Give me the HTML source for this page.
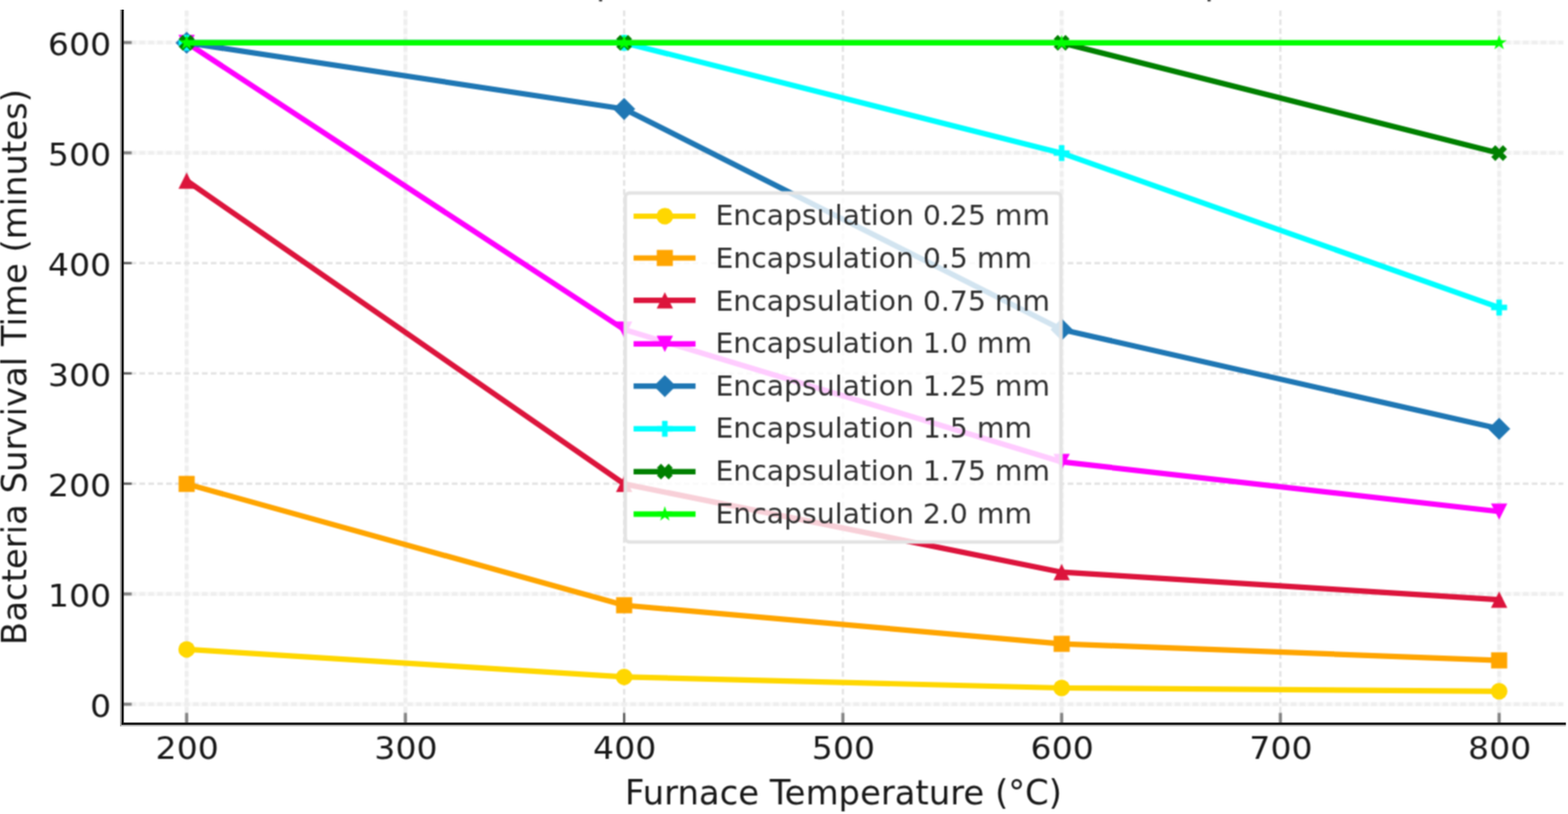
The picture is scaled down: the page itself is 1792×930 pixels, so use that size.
<!DOCTYPE html>
<html lang="en"><head><meta charset="utf-8"><title>Bacteria Survival Time vs Furnace Temperature</title>
<style>html,body{margin:0;padding:0;background:#fff;}body{width:1792px;height:930px;overflow:hidden;}svg{display:block;}text{font-family:"DejaVu Sans","Liberation Sans",sans-serif;fill:#181818;font-weight:400;}text.lg{fill:#2e2e2e;}</style></head><body>
<svg width="1792" height="930" viewBox="0 0 1792 930">
<defs><filter id="soft" x="0" y="0" width="100%" height="100%" filterUnits="objectBoundingBox" color-interpolation-filters="sRGB"><feConvolveMatrix order="3" kernelMatrix="1 2 1 2 4 2 1 2 1" divisor="16" edgeMode="duplicate" preserveAlpha="false"/></filter></defs>
<g filter="url(#soft)">
<rect width="1792" height="930" fill="#fff"/>
<g fill="#3a3a3a"><rect x="684.6" y="-3" width="3.6" height="4.6"/><rect x="1380" y="-3" width="3.6" height="4.6"/></g>
<g fill="none" stroke="#f9f9f9" stroke-width="4.6">
<line x1="213.3" y1="12" x2="213.3" y2="827.6"/>
<line x1="463.3" y1="12" x2="463.3" y2="827.6"/>
<line x1="1213.3" y1="12" x2="1213.3" y2="827.6"/>
<line x1="1713.3" y1="12" x2="1713.3" y2="827.6"/>
<line x1="139" y1="804.6" x2="1786.6" y2="804.6"/>
<line x1="139" y1="678.6" x2="1786.6" y2="678.6"/>
<line x1="139" y1="174.6" x2="1786.6" y2="174.6"/>
<line x1="139" y1="48.6" x2="1786.6" y2="48.6"/>
</g>
<g fill="none" stroke-dasharray="6.4 3.8">
<line x1="213.3" y1="12" x2="213.3" y2="827.6" stroke="#eeeeee" stroke-width="4.3"/>
<line x1="463.3" y1="12" x2="463.3" y2="827.6" stroke="#eeeeee" stroke-width="4.3"/>
<line x1="713.3" y1="12" x2="713.3" y2="827.6" stroke="#e3e3e3" stroke-width="2.6"/>
<line x1="963.3" y1="12" x2="963.3" y2="827.6" stroke="#e3e3e3" stroke-width="2.6"/>
<line x1="1213.3" y1="12" x2="1213.3" y2="827.6" stroke="#eeeeee" stroke-width="4.3"/>
<line x1="1463.3" y1="12" x2="1463.3" y2="827.6" stroke="#e3e3e3" stroke-width="2.6"/>
<line x1="1713.3" y1="12" x2="1713.3" y2="827.6" stroke="#eeeeee" stroke-width="4.3"/>
<line x1="139" y1="804.6" x2="1786.6" y2="804.6" stroke="#eeeeee" stroke-width="4.3"/>
<line x1="139" y1="678.6" x2="1786.6" y2="678.6" stroke="#eeeeee" stroke-width="4.3"/>
<line x1="139" y1="552.6" x2="1786.6" y2="552.6" stroke="#e3e3e3" stroke-width="2.6"/>
<line x1="139" y1="426.6" x2="1786.6" y2="426.6" stroke="#e3e3e3" stroke-width="2.6"/>
<line x1="139" y1="300.6" x2="1786.6" y2="300.6" stroke="#e3e3e3" stroke-width="2.6"/>
<line x1="139" y1="174.6" x2="1786.6" y2="174.6" stroke="#eeeeee" stroke-width="4.3"/>
<line x1="139" y1="48.6" x2="1786.6" y2="48.6" stroke="#eeeeee" stroke-width="4.3"/>
</g>
<g>
<line x1="213.3" y1="827.6" x2="213.3" y2="814.4" stroke="#858585" stroke-width="3.6"/>
<line x1="463.3" y1="827.6" x2="463.3" y2="814.4" stroke="#858585" stroke-width="3.6"/>
<line x1="713.3" y1="827.6" x2="713.3" y2="814.4" stroke="#5a5a5a" stroke-width="2.6"/>
<line x1="963.3" y1="827.6" x2="963.3" y2="814.4" stroke="#858585" stroke-width="3.6"/>
<line x1="1213.3" y1="827.6" x2="1213.3" y2="814.4" stroke="#858585" stroke-width="3.6"/>
<line x1="1463.3" y1="827.6" x2="1463.3" y2="814.4" stroke="#858585" stroke-width="3.6"/>
<line x1="1713.3" y1="827.6" x2="1713.3" y2="814.4" stroke="#858585" stroke-width="3.6"/>
<line x1="139" y1="804.6" x2="150.5" y2="804.6" stroke="#858585" stroke-width="3.6"/>
<line x1="139" y1="678.6" x2="150.5" y2="678.6" stroke="#858585" stroke-width="3.6"/>
<line x1="139" y1="552.6" x2="150.5" y2="552.6" stroke="#5a5a5a" stroke-width="2.6"/>
<line x1="139" y1="426.6" x2="150.5" y2="426.6" stroke="#5a5a5a" stroke-width="2.6"/>
<line x1="139" y1="300.6" x2="150.5" y2="300.6" stroke="#5a5a5a" stroke-width="2.6"/>
<line x1="139" y1="174.6" x2="150.5" y2="174.6" stroke="#858585" stroke-width="3.6"/>
<line x1="139" y1="48.6" x2="150.5" y2="48.6" stroke="#858585" stroke-width="3.6"/>
</g>
<g>
<polyline points="213.3,741.9 713.3,773.4 1213.3,786 1713.3,789.78" fill="none" stroke="#FFD700" stroke-width="6.2" stroke-linejoin="round" stroke-linecap="square"/>
<circle cx="213.3" cy="741.9" r="9.5" fill="#FFD700"/>
<circle cx="713.3" cy="773.4" r="9.5" fill="#FFD700"/>
<circle cx="1213.3" cy="786" r="9.5" fill="#FFD700"/>
<circle cx="1713.3" cy="789.78" r="9.5" fill="#FFD700"/>
</g>
<g>
<polyline points="213.3,552.9 713.3,691.5 1213.3,735.6 1713.3,754.5" fill="none" stroke="#FFA500" stroke-width="6.2" stroke-linejoin="round" stroke-linecap="square"/>
<polygon points="204.3,543.9 222.3,543.9 222.3,561.9 204.3,561.9" fill="#FFA500" stroke="#FFA500" stroke-width="0.4" stroke-linejoin="miter"/>
<polygon points="704.3,682.5 722.3,682.5 722.3,700.5 704.3,700.5" fill="#FFA500" stroke="#FFA500" stroke-width="0.4" stroke-linejoin="miter"/>
<polygon points="1204.3,726.6 1222.3,726.6 1222.3,744.6 1204.3,744.6" fill="#FFA500" stroke="#FFA500" stroke-width="0.4" stroke-linejoin="miter"/>
<polygon points="1704.3,745.5 1722.3,745.5 1722.3,763.5 1704.3,763.5" fill="#FFA500" stroke="#FFA500" stroke-width="0.4" stroke-linejoin="miter"/>
</g>
<g>
<polyline points="213.3,206.4 713.3,552.9 1213.3,653.7 1713.3,685.2" fill="none" stroke="#DC143C" stroke-width="6.2" stroke-linejoin="round" stroke-linecap="square"/>
<polygon points="213.3,197.4 222.3,215.4 204.3,215.4" fill="#DC143C" stroke="#DC143C" stroke-width="0.4" stroke-linejoin="miter"/>
<polygon points="713.3,543.9 722.3,561.9 704.3,561.9" fill="#DC143C" stroke="#DC143C" stroke-width="0.4" stroke-linejoin="miter"/>
<polygon points="1213.3,644.7 1222.3,662.7 1204.3,662.7" fill="#DC143C" stroke="#DC143C" stroke-width="0.4" stroke-linejoin="miter"/>
<polygon points="1713.3,676.2 1722.3,694.2 1704.3,694.2" fill="#DC143C" stroke="#DC143C" stroke-width="0.4" stroke-linejoin="miter"/>
</g>
<g>
<polyline points="213.3,48.9 713.3,376.5 1213.3,527.7 1713.3,584.4" fill="none" stroke="#FF00FF" stroke-width="6.2" stroke-linejoin="round" stroke-linecap="square"/>
<polygon points="213.3,57.9 222.3,39.9 204.3,39.9" fill="#FF00FF" stroke="#FF00FF" stroke-width="0.4" stroke-linejoin="miter"/>
<polygon points="713.3,385.5 722.3,367.5 704.3,367.5" fill="#FF00FF" stroke="#FF00FF" stroke-width="0.4" stroke-linejoin="miter"/>
<polygon points="1213.3,536.7 1222.3,518.7 1204.3,518.7" fill="#FF00FF" stroke="#FF00FF" stroke-width="0.4" stroke-linejoin="miter"/>
<polygon points="1713.3,593.4 1722.3,575.4 1704.3,575.4" fill="#FF00FF" stroke="#FF00FF" stroke-width="0.4" stroke-linejoin="miter"/>
</g>
<g>
<polyline points="213.3,48.9 713.3,124.5 1213.3,376.5 1713.3,489.9" fill="none" stroke="#1F77B4" stroke-width="6.2" stroke-linejoin="round" stroke-linecap="square"/>
<polygon points="213.3,36.45 225.75,48.9 213.3,61.35 200.85,48.9" fill="#1F77B4" stroke="#1F77B4" stroke-width="0.4" stroke-linejoin="miter"/>
<polygon points="713.3,112.05 725.75,124.5 713.3,136.95 700.85,124.5" fill="#1F77B4" stroke="#1F77B4" stroke-width="0.4" stroke-linejoin="miter"/>
<polygon points="1213.3,364.05 1225.75,376.5 1213.3,388.95 1200.85,376.5" fill="#1F77B4" stroke="#1F77B4" stroke-width="0.4" stroke-linejoin="miter"/>
<polygon points="1713.3,477.45 1725.75,489.9 1713.3,502.35 1700.85,489.9" fill="#1F77B4" stroke="#1F77B4" stroke-width="0.4" stroke-linejoin="miter"/>
</g>
<g>
<polyline points="213.3,48.9 713.3,48.9 1213.3,174.9 1713.3,351.3" fill="none" stroke="#00FFFF" stroke-width="6.2" stroke-linejoin="round" stroke-linecap="square"/>
<polygon points="210.33,40 216.27,40 216.27,45.93 222.2,45.93 222.2,51.87 216.27,51.87 216.27,57.8 210.33,57.8 210.33,51.87 204.4,51.87 204.4,45.93 210.33,45.93" fill="#00FFFF" stroke="#00FFFF" stroke-width="0.4" stroke-linejoin="miter"/>
<polygon points="710.33,40 716.27,40 716.27,45.93 722.2,45.93 722.2,51.87 716.27,51.87 716.27,57.8 710.33,57.8 710.33,51.87 704.4,51.87 704.4,45.93 710.33,45.93" fill="#00FFFF" stroke="#00FFFF" stroke-width="0.4" stroke-linejoin="miter"/>
<polygon points="1210.33,166 1216.27,166 1216.27,171.93 1222.2,171.93 1222.2,177.87 1216.27,177.87 1216.27,183.8 1210.33,183.8 1210.33,177.87 1204.4,177.87 1204.4,171.93 1210.33,171.93" fill="#00FFFF" stroke="#00FFFF" stroke-width="0.4" stroke-linejoin="miter"/>
<polygon points="1710.33,342.4 1716.27,342.4 1716.27,348.33 1722.2,348.33 1722.2,354.27 1716.27,354.27 1716.27,360.2 1710.33,360.2 1710.33,354.27 1704.4,354.27 1704.4,348.33 1710.33,348.33" fill="#00FFFF" stroke="#00FFFF" stroke-width="0.4" stroke-linejoin="miter"/>
</g>
<g>
<polyline points="213.3,48.9 713.3,48.9 1213.3,48.9 1713.3,174.9" fill="none" stroke="#008000" stroke-width="6.2" stroke-linejoin="round" stroke-linecap="square"/>
<polygon points="208.9,40.1 213.3,44.5 217.7,40.1 222.1,44.5 217.7,48.9 222.1,53.3 217.7,57.7 213.3,53.3 208.9,57.7 204.5,53.3 208.9,48.9 204.5,44.5" fill="#008000" stroke="#008000" stroke-width="0.4" stroke-linejoin="miter"/>
<polygon points="708.9,40.1 713.3,44.5 717.7,40.1 722.1,44.5 717.7,48.9 722.1,53.3 717.7,57.7 713.3,53.3 708.9,57.7 704.5,53.3 708.9,48.9 704.5,44.5" fill="#008000" stroke="#008000" stroke-width="0.4" stroke-linejoin="miter"/>
<polygon points="1208.9,40.1 1213.3,44.5 1217.7,40.1 1222.1,44.5 1217.7,48.9 1222.1,53.3 1217.7,57.7 1213.3,53.3 1208.9,57.7 1204.5,53.3 1208.9,48.9 1204.5,44.5" fill="#008000" stroke="#008000" stroke-width="0.4" stroke-linejoin="miter"/>
<polygon points="1708.9,166.1 1713.3,170.5 1717.7,166.1 1722.1,170.5 1717.7,174.9 1722.1,179.3 1717.7,183.7 1713.3,179.3 1708.9,183.7 1704.5,179.3 1708.9,174.9 1704.5,170.5" fill="#008000" stroke="#008000" stroke-width="0.4" stroke-linejoin="miter"/>
</g>
<g>
<polyline points="213.3,48.9 713.3,48.9 1213.3,48.9 1713.3,48.9" fill="none" stroke="#00FF00" stroke-width="6.2" stroke-linejoin="round" stroke-linecap="square"/>
<polygon points="213.3,40.2 211.35,46.21 205.03,46.21 210.14,49.93 208.19,55.94 213.3,52.22 218.41,55.94 216.46,49.93 221.57,46.21 215.25,46.21" fill="#00FF00" stroke="#00FF00" stroke-width="0.3" stroke-linejoin="miter"/>
<polygon points="713.3,40.2 711.35,46.21 705.03,46.21 710.14,49.93 708.19,55.94 713.3,52.22 718.41,55.94 716.46,49.93 721.57,46.21 715.25,46.21" fill="#00FF00" stroke="#00FF00" stroke-width="0.3" stroke-linejoin="miter"/>
<polygon points="1213.3,40.2 1211.35,46.21 1205.03,46.21 1210.14,49.93 1208.19,55.94 1213.3,52.22 1218.41,55.94 1216.46,49.93 1221.57,46.21 1215.25,46.21" fill="#00FF00" stroke="#00FF00" stroke-width="0.3" stroke-linejoin="miter"/>
<polygon points="1713.3,40.2 1711.35,46.21 1705.03,46.21 1710.14,49.93 1708.19,55.94 1713.3,52.22 1718.41,55.94 1716.46,49.93 1721.57,46.21 1715.25,46.21" fill="#00FF00" stroke="#00FF00" stroke-width="0.3" stroke-linejoin="miter"/>
</g>
<g font-size="38.7">
<text transform="translate(213.9 866.6) scale(1 0.95)" font-size="37.8" text-anchor="middle">200</text>
<text transform="translate(463.9 866.6) scale(1 0.95)" font-size="37.8" text-anchor="middle">300</text>
<text transform="translate(713.9 866.6) scale(1 0.95)" font-size="37.8" text-anchor="middle">400</text>
<text transform="translate(963.9 866.6) scale(1 0.95)" font-size="37.8" text-anchor="middle">500</text>
<text transform="translate(1213.9 866.6) scale(1 0.95)" font-size="37.8" text-anchor="middle">600</text>
<text transform="translate(1463.9 866.6) scale(1 0.95)" font-size="37.8" text-anchor="middle">700</text>
<text transform="translate(1713.9 866.6) scale(1 0.95)" font-size="37.8" text-anchor="middle">800</text>
<text transform="translate(127 818.9) scale(1 0.95)" font-size="37.8" text-anchor="end">0</text>
<text transform="translate(127 692.9) scale(1 0.95)" font-size="37.8" text-anchor="end">100</text>
<text transform="translate(127 566.9) scale(1 0.95)" font-size="37.8" text-anchor="end">200</text>
<text transform="translate(127 440.9) scale(1 0.95)" font-size="37.8" text-anchor="end">300</text>
<text transform="translate(127 314.9) scale(1 0.95)" font-size="37.8" text-anchor="end">400</text>
<text transform="translate(127 188.9) scale(1 0.95)" font-size="37.8" text-anchor="end">500</text>
<text transform="translate(127 62.9) scale(1 0.95)" font-size="37.8" text-anchor="end">600</text>
<text x="964" y="918.8" text-anchor="middle">Furnace Temperature (°C)</text>
<text transform="translate(30.2 419.3) rotate(-90)" text-anchor="middle">Bacteria Survival Time (minutes)</text>
</g>
<g>
<rect x="714.6" y="220.4" width="497.9" height="398.9" rx="5" ry="5" fill="#fff" fill-opacity="0.8" stroke="#e3e3e3" stroke-width="4"/>
<line x1="727.2" y1="247" x2="791.8" y2="247" stroke="#FFD700" stroke-width="6.2" stroke-linecap="square"/>
<circle cx="759.8" cy="247" r="9.5" fill="#FFD700"/>
<text class="lg" x="817.7" y="257.2" font-size="32.3">Encapsulation 0.25 mm</text>
<line x1="727.2" y1="294.75" x2="791.8" y2="294.75" stroke="#FFA500" stroke-width="6.2" stroke-linecap="square"/>
<polygon points="750.8,285.75 768.8,285.75 768.8,303.75 750.8,303.75" fill="#FFA500" stroke="#FFA500" stroke-width="0.4" stroke-linejoin="miter"/>
<text class="lg" x="817.7" y="305.85" font-size="32.3">Encapsulation 0.5 mm</text>
<line x1="727.2" y1="343.2" x2="791.8" y2="343.2" stroke="#DC143C" stroke-width="6.2" stroke-linecap="square"/>
<polygon points="759.8,334.2 768.8,352.2 750.8,352.2" fill="#DC143C" stroke="#DC143C" stroke-width="0.4" stroke-linejoin="miter"/>
<text class="lg" x="817.7" y="354.5" font-size="32.3">Encapsulation 0.75 mm</text>
<line x1="727.2" y1="392.85" x2="791.8" y2="392.85" stroke="#FF00FF" stroke-width="6.2" stroke-linecap="square"/>
<polygon points="759.8,401.85 768.8,383.85 750.8,383.85" fill="#FF00FF" stroke="#FF00FF" stroke-width="0.4" stroke-linejoin="miter"/>
<text class="lg" x="817.7" y="403.15" font-size="32.3">Encapsulation 1.0 mm</text>
<line x1="727.2" y1="441.1" x2="791.8" y2="441.1" stroke="#1F77B4" stroke-width="6.2" stroke-linecap="square"/>
<polygon points="759.8,428.65 772.25,441.1 759.8,453.55 747.35,441.1" fill="#1F77B4" stroke="#1F77B4" stroke-width="0.4" stroke-linejoin="miter"/>
<text class="lg" x="817.7" y="451.8" font-size="32.3">Encapsulation 1.25 mm</text>
<line x1="727.2" y1="489.95" x2="791.8" y2="489.95" stroke="#00FFFF" stroke-width="6.2" stroke-linecap="square"/>
<polygon points="756.83,481.05 762.77,481.05 762.77,486.98 768.7,486.98 768.7,492.92 762.77,492.92 762.77,498.85 756.83,498.85 756.83,492.92 750.9,492.92 750.9,486.98 756.83,486.98" fill="#00FFFF" stroke="#00FFFF" stroke-width="0.4" stroke-linejoin="miter"/>
<text class="lg" x="817.7" y="500.45" font-size="32.3">Encapsulation 1.5 mm</text>
<line x1="727.2" y1="538.8" x2="791.8" y2="538.8" stroke="#008000" stroke-width="6.2" stroke-linecap="square"/>
<polygon points="755.4,530 759.8,534.4 764.2,530 768.6,534.4 764.2,538.8 768.6,543.2 764.2,547.6 759.8,543.2 755.4,547.6 751,543.2 755.4,538.8 751,534.4" fill="#008000" stroke="#008000" stroke-width="0.4" stroke-linejoin="miter"/>
<text class="lg" x="817.7" y="549.1" font-size="32.3">Encapsulation 1.75 mm</text>
<line x1="727.2" y1="587.45" x2="791.8" y2="587.45" stroke="#00FF00" stroke-width="6.2" stroke-linecap="square"/>
<polygon points="759.8,578.75 757.85,584.76 751.53,584.76 756.64,588.48 754.69,594.49 759.8,590.77 764.91,594.49 762.96,588.48 768.07,584.76 761.75,584.76" fill="#00FF00" stroke="#00FF00" stroke-width="0.3" stroke-linejoin="miter"/>
<text class="lg" x="817.7" y="597.75" font-size="32.3">Encapsulation 2.0 mm</text>
</g>
</g>
<g>
<rect x="137" y="11" width="2" height="818.7" fill="#b0b0b0"/>
<rect x="137" y="827.9" width="1652.6" height="1.8" fill="#b0b0b0"/>
<rect x="138.9" y="11" width="2.6" height="817" fill="#141414"/>
<rect x="138.9" y="825.5" width="1650.7" height="2.6" fill="#141414"/>
</g>
</svg></body></html>
